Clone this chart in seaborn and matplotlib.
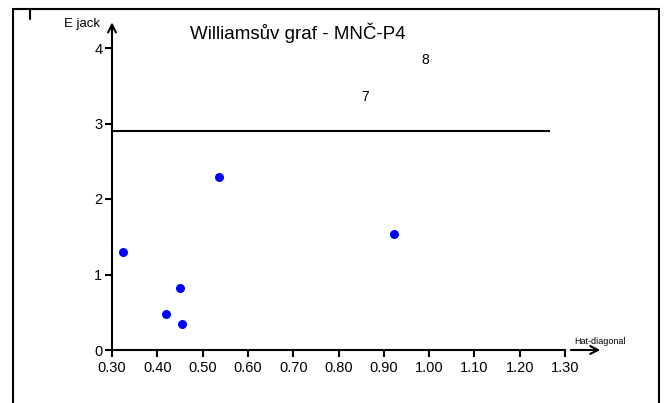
import matplotlib
matplotlib.use("Agg")
import matplotlib.pyplot as plt
from matplotlib.patches import Rectangle
from matplotlib.lines import Line2D
from matplotlib import font_manager
import seaborn as sns
import pandas as pd

# Williams plot data: hat-diagonal vs. jackknife residual
hat_diag = [0.324, 0.419, 0.450, 0.455, 0.536, 0.922]
e_jack = [1.30, 0.48, 0.82, 0.34, 2.29, 1.54]

# labelled observations (shown as numbers only)
obs_ids = ["7", "8"]
obs_hat = [0.858, 0.991]
obs_ejack = [3.35, 3.84]

# critical limit
limit_y = 2.9
limit_x_end = 1.267

x_ticks = [0.30, 0.40, 0.50, 0.60, 0.70, 0.80, 0.90, 1.00, 1.10, 1.20, 1.30]
y_ticks = [0, 1, 2, 3, 4]

sns.set_style("white")
plt.rcParams["font.family"] = ["Liberation Sans", "DejaVu Sans"]
plt.rcParams["text.color"] = "black"
plt.rcParams["xtick.color"] = "black"
plt.rcParams["ytick.color"] = "black"

installed = {f.name for f in font_manager.fontManager.ttflist}
title_family = ["Liberation Sans Narrow", "Liberation Sans"] \
    if "Liberation Sans Narrow" in installed else ["Liberation Sans"]
title_size = 15.5 if "Liberation Sans Narrow" in installed else 13.5

W, H = 664, 403
fig = plt.figure(figsize=(W / 100, H / 100), dpi=100)
ax = fig.add_axes([112 / W, 53 / H, 453 / W, 302 / H])

df = pd.DataFrame({"hat": hat_diag, "ejack": e_jack})
sns.scatterplot(data=df, x="hat", y="ejack", ax=ax, color="#0000ff",
                s=42, linewidth=0, zorder=3)

ax.hlines(limit_y, x_ticks[0], limit_x_end, color="black", lw=1.5)

for lab, hx, ey in zip(obs_ids, obs_hat, obs_ejack):
    ax.text(hx, ey, lab, ha="center", va="center", fontsize=10)

ax.set_xlim(0.30, 1.30)
ax.set_ylim(0, 4)
ax.set_xticks(x_ticks)
ax.set_xticklabels([f"{t:.2f}" for t in x_ticks])
ax.set_yticks(y_ticks)
ax.set_xlabel("")
ax.set_ylabel("")
ax.tick_params(axis="both", direction="out", length=5, width=1.5,
               labelsize=10.5, color="black", labelcolor="black", pad=2,
               bottom=True, left=True)
ax.tick_params(axis="x", pad=3)

for s in ("top", "right"):
    ax.spines[s].set_visible(False)
for s in ("left", "bottom"):
    ax.spines[s].set_linewidth(1.5)
    ax.spines[s].set_color("black")

# axis arrows
ax.annotate("", xy=(0.30, 4.34), xytext=(0.30, 3.98),
            xycoords="data", textcoords="data", annotation_clip=False,
            arrowprops=dict(arrowstyle="->", lw=1.5, color="black",
                            mutation_scale=14, shrinkA=0, shrinkB=0))
ax.annotate("", xy=(1.378, 0), xytext=(1.313, 0),
            xycoords="data", textcoords="data", annotation_clip=False,
            arrowprops=dict(arrowstyle="->", lw=1.5, color="black",
                            mutation_scale=14, shrinkA=0, shrinkB=0))

# axis names
fig.text(100 / W, 1 - 24 / H, "E jack", ha="right", va="center", fontsize=9.5)
fig.text(574 / W, 1 - 341 / H, "Hat-diagonal", ha="left", va="center",
         fontsize=6.5)

# title
fig.text(298 / W, 1 - 33 / H, "Williamsův graf - MNČ-P4", ha="center",
         va="center", fontsize=title_size, family=title_family)

# frame around the chart
fig.patches.append(Rectangle((13 / W, -0.05), (659 - 13) / W,
                             1 - 9 / H + 0.05, transform=fig.transFigure,
                             fill=False, edgecolor="black", lw=1.5))
fig.lines.append(Line2D([30 / W, 30 / W], [1 - 9 / H, 1 - 19 / H],
                        transform=fig.transFigure, color="black", lw=1.5))

fig.savefig("out.png", dpi=100)
